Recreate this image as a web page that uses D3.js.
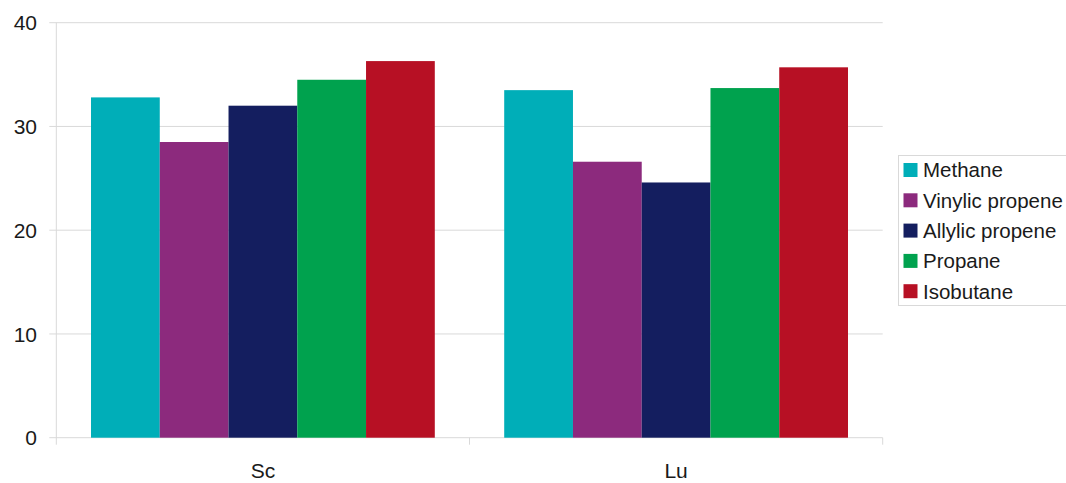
<!DOCTYPE html>
<html>
<head>
<meta charset="utf-8">
<script src="https://cdn.jsdelivr.net/npm/d3@7"></script>
<style>
  html, body { margin: 0; padding: 0; background: #fff; }
  svg { display: block; font-family: "Liberation Sans", Arial, sans-serif; }
</style>
</head>
<body>
<svg id="chart" width="1066" height="483"></svg>
<script>
// Categories (metal centres) and series (C–H bond types)
const categories = ["Sc", "Lu"];
const seriesNames = ["Methane", "Vinylic propene", "Allylic propene", "Propane", "Isobutane"];
const seriesColors = ["#00aeb8", "#8c2a7d", "#141e5f", "#00a24e", "#b71024"];

// Values per series, in category order [Sc, Lu]
const methane = [32.8, 33.5];
const vinylicPropene = [28.5, 26.6];
const allylicPropene = [32.0, 24.6];
const propane = [34.5, 33.7];
const isobutane = [36.3, 35.7];
const seriesValues = [methane, vinylicPropene, allylicPropene, propane, isobutane];

const yTicks = [0, 10, 20, 30, 40];

const svg = d3.select("#chart");
const plot = { left: 56.3, right: 882.7, top: 22.7, bottom: 437.7 };

const x0 = d3.scaleBand()
  .domain(categories)
  .range([plot.left, plot.right])
  .paddingInner(0)
  .paddingOuter(0);

const x1 = d3.scaleBand()
  .domain(seriesNames)
  .range([0, x0.bandwidth()])
  .paddingOuter(0.084 / (1 - 2 * 0.084) * 5)
  .paddingInner(0);

const y = d3.scaleLinear().domain([0, 40]).range([plot.bottom, plot.top]);

const gridColor = "#d9d9d9";
const textColor = "#1a1a1a";

// Horizontal gridlines with left tick marks
svg.append("g")
  .selectAll("line")
  .data(yTicks)
  .join("line")
  .attr("x1", plot.left - 7)
  .attr("x2", plot.right)
  .attr("y1", d => y(d))
  .attr("y2", d => y(d))
  .attr("stroke", gridColor)
  .attr("stroke-width", 1);

// Vertical axis line
svg.append("line")
  .attr("x1", plot.left).attr("x2", plot.left)
  .attr("y1", plot.top).attr("y2", plot.bottom + 7)
  .attr("stroke", gridColor);

// Category separator ticks below the baseline
const sepX = [plot.left + x0.bandwidth(), plot.right];
svg.append("g")
  .selectAll("line")
  .data(sepX)
  .join("line")
  .attr("x1", d => d).attr("x2", d => d)
  .attr("y1", plot.bottom).attr("y2", plot.bottom + 7)
  .attr("stroke", gridColor);

// Y tick labels
svg.append("g")
  .selectAll("text")
  .data(yTicks)
  .join("text")
  .attr("x", 37)
  .attr("y", d => y(d))
  .attr("dy", "0.36em")
  .attr("text-anchor", "end")
  .attr("font-size", 21)
  .attr("fill", textColor)
  .text(d => d);

// Bars
const groups = svg.append("g")
  .selectAll("g")
  .data(categories)
  .join("g")
  .attr("transform", d => `translate(${x0(d)},0)`);

groups.selectAll("rect")
  .data((c, ci) => seriesNames.map((s, si) => ({ s, v: seriesValues[si][ci], color: seriesColors[si] })))
  .join("rect")
  .attr("x", d => x1(d.s))
  .attr("width", x1.bandwidth())
  .attr("y", d => y(d.v))
  .attr("height", d => y(0) - y(d.v))
  .attr("fill", d => d.color);

// Category labels
svg.append("g")
  .selectAll("text")
  .data(categories)
  .join("text")
  .attr("x", d => x0(d) + x0.bandwidth() / 2)
  .attr("y", 478)
  .attr("text-anchor", "middle")
  .attr("font-size", 21)
  .attr("fill", textColor)
  .text(d => d);

// Legend
const legend = svg.append("g").attr("transform", "translate(898,155)");
legend.append("rect")
  .attr("x", 0.5).attr("y", 0.5)
  .attr("width", 170).attr("height", 150)
  .attr("fill", "#fff")
  .attr("stroke", gridColor);

const items = legend.selectAll("g.item")
  .data(seriesNames)
  .join("g")
  .attr("class", "item")
  .attr("transform", (d, i) => `translate(0,${8 + i * 30.3})`);

items.append("rect")
  .attr("x", 5.5).attr("width", 14).attr("height", 14)
  .attr("fill", (d, i) => seriesColors[i]);

items.append("text")
  .attr("x", 25)
  .attr("y", 7)
  .attr("dy", "0.36em")
  .attr("font-size", 20.5)
  .attr("fill", textColor)
  .text(d => d);
</script>
</body>
</html>
